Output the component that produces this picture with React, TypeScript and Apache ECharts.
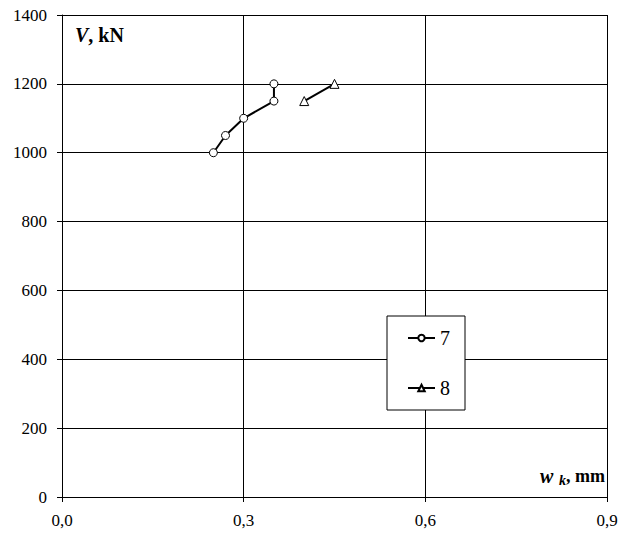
import React, { useEffect, useRef } from "react";
import * as echarts from "echarts";

const series7: [number, number][] = [
  [0.25, 1000],
  [0.27, 1050],
  [0.3, 1100],
  [0.35, 1150],
  [0.35, 1200],
];
const series8: [number, number][] = [
  [0.4, 1150],
  [0.45, 1200],
];
const seriesNames = ["7", "8"];
const xTicks = { min: 0, max: 0.9, interval: 0.3 };
const yTicks = { min: 0, max: 1400, interval: 200 };

const FONT = "'Liberation Serif', 'Times New Roman', serif";

export default function App() {
  const ref = useRef<HTMLDivElement>(null);
  useEffect(() => {
    if (!ref.current) return;
    const chart = echarts.init(ref.current, undefined, { renderer: "svg" });
    const axisCommon = {
      axisLine: { show: true, lineStyle: { color: "#000", width: 1 } },
      axisTick: { show: true, inside: false, length: 5, lineStyle: { color: "#000", width: 1 } },
      splitLine: { show: true, lineStyle: { color: "#000", width: 1 } },
    };
    const bold = { fontFamily: FONT, fontWeight: "bold", fill: "#000", verticalAlign: "middle" };
    chart.setOption({
      animation: false,
      backgroundColor: "#fff",
      textStyle: { fontFamily: FONT, color: "#000" },
      grid: { left: 62, right: 22, top: 15, bottom: 44 },
      xAxis: {
        type: "value",
        ...xTicks,
        ...axisCommon,
        axisLabel: {
          margin: 15,
          color: "#000",
          fontFamily: FONT,
          fontSize: 17,
          formatter: (v: number) => v.toFixed(1).replace(".", ","),
        },
      },
      yAxis: {
        type: "value",
        ...yTicks,
        ...axisCommon,
        axisLabel: {
          margin: 15,
          color: "#000",
          fontFamily: FONT,
          fontSize: 17,
          formatter: (v: number) => String(Math.round(v)),
        },
      },
      legend: {
        show: true,
        orient: "vertical",
        left: 387,
        top: 316,
        backgroundColor: "#fff",
        borderColor: "#000",
        borderWidth: 1,
        borderRadius: 0,
        padding: [12, 15, 12, 20],
        itemWidth: 27,
        itemHeight: 8,
        itemGap: 30,
        textStyle: { color: "#000", fontFamily: FONT, fontSize: 20 },
        data: seriesNames,
      },
      graphic: [
        {
          type: "text",
          x: 75,
          y: 35,
          style: {
            text: "{v|V}{b|, kN}",
            verticalAlign: "middle",
            rich: {
              v: { ...bold, fontSize: 20, fontStyle: "italic" },
              b: { ...bold, fontSize: 20 },
            },
          },
        },
        {
          type: "text",
          x: 540,
          y: 476,
          style: { text: "w", ...bold, fontSize: 20, fontStyle: "italic" },
        },
        {
          type: "text",
          x: 559,
          y: 480,
          style: { text: "k", ...bold, fontSize: 14, fontStyle: "italic" },
        },
        {
          type: "text",
          x: 566,
          y: 476,
          style: { text: ", mm", ...bold, fontSize: 18 },
        },
      ],
      series: [
        {
          name: seriesNames[0],
          type: "line",
          data: series7,
          symbol: "circle",
          symbolSize: 8,
          lineStyle: { color: "#000", width: 2 },
          itemStyle: { color: "#fff", borderColor: "#000", borderWidth: 1 },
        },
        {
          name: seriesNames[1],
          type: "line",
          data: series8,
          symbol: "triangle",
          symbolSize: 9,
          lineStyle: { color: "#000", width: 2 },
          itemStyle: { color: "#fff", borderColor: "#000", borderWidth: 1 },
        },
      ],
    });
    return () => chart.dispose();
  }, []);
  return (
    <div
      ref={ref}
      style={{ position: "fixed", left: 0, top: 0, width: 629, height: 541 }}
    />
  );
}
